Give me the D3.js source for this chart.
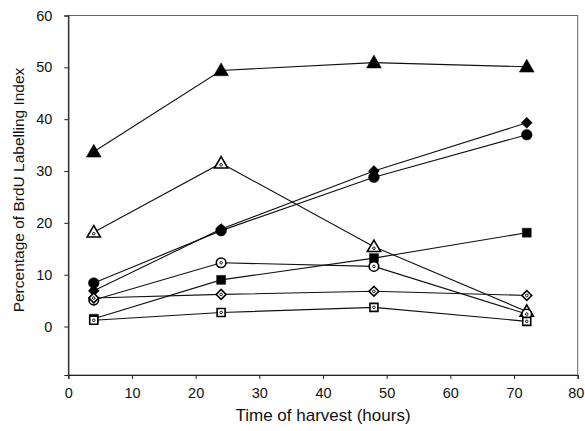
<!DOCTYPE html>
<html><head><meta charset="utf-8">
<script src="https://cdn.jsdelivr.net/npm/d3@7"></script>
<style>body{margin:0;background:#fff;}svg{display:block;}</style>
</head><body>
<script>
const times = [4, 24, 48, 72];
const xTicks = [0, 10, 20, 30, 40, 50, 60, 70, 80];
const yTicks = [0, 10, 20, 30, 40, 50, 60];
const seriesNames = ["triFilled","triOpen","diamondFilled","circleFilled","squareFilled","circleOpen","diamondOpen","squareOpen"];
const triFilled     = [33.7, 49.4, 50.9, 50.1];
const triOpen       = [18.2, 31.5, 15.4, 2.9];
const diamondFilled = [6.9, 18.8, 30.0, 39.3];
const circleFilled  = [8.4, 18.5, 28.8, 37.0];
const squareFilled  = [1.5, 9.0, 13.2, 18.1];
const circleOpen    = [5.1, 12.3, 11.6, 2.4];
const diamondOpen   = [5.5, 6.2, 6.8, 6.0];
const squareOpen    = [1.2, 2.7, 3.7, 1.0];
const seriesValues = [triFilled, triOpen, diamondFilled, circleFilled, squareFilled, circleOpen, diamondOpen, squareOpen];
const seriesShapes = ["triangle","triangle","diamond","circle","square","circle","diamond","square"];
const seriesFilled = [true,false,true,true,true,false,false,false];

const W = 585, H = 431;
const svg = d3.select("body").append("svg").attr("width", W).attr("height", H);
const x = d3.scaleLinear().domain([0, 80]).range([68.3, 577.7]);
const y = d3.scaleLinear().domain([-9.35, 60]).range([375, 15.5]);
const font = "'Liberation Sans', Arial, sans-serif";

// frame
svg.append("rect").attr("x", x(0)).attr("y", y(60)).attr("width", x(80)-x(0)).attr("height", y(-9.35)-y(60))
  .attr("fill","none").attr("stroke","#666").attr("stroke-width",1);

const xAxis = svg.append("g").attr("transform", `translate(0,${y(-9.35)})`)
  .call(d3.axisBottom(x).tickValues(xTicks).tickSize(4).tickPadding(9).tickFormat(d3.format("d")));
const yAxis = svg.append("g").attr("transform", `translate(${x(0)},0)`)
  .call(d3.axisLeft(y).tickValues(yTicks).tickSize(4).tickPadding(12).tickFormat(d3.format("d")));
[xAxis, yAxis].forEach(g => {
  g.select(".domain").attr("stroke","#222").attr("stroke-width",1.2);
  g.selectAll(".tick line").attr("stroke","#222");
  g.selectAll("text").attr("font-family", font).attr("font-size", 14.5).attr("fill","#111");
});
xAxis.selectAll(".tick text").filter(d => d === 80).attr("dx", -2);

svg.append("text").attr("x", (x(0)+x(80))/2).attr("y", 421).attr("text-anchor","middle")
  .attr("font-family", font).attr("font-size", 17).attr("fill","#111").text("Time of harvest (hours)");
svg.append("text").attr("transform", `translate(24,${190}) rotate(-90)`).attr("text-anchor","middle")
  .attr("font-family", font).attr("font-size", 15.5).attr("fill","#111").text("Percentage of BrdU Labelling Index");

const line = d3.line().x((d,i) => x(times[i])).y(d => y(d));
seriesValues.forEach((vals, s) => {
  svg.append("path").datum(vals).attr("d", line).attr("fill","none").attr("stroke","#111").attr("stroke-width",1.1);
});

const symType = {triangle: d3.symbolTriangle, diamond: d3.symbolSquare, circle: d3.symbolCircle, square: d3.symbolSquare};
const symSize = {triangle: 95, diamond: 60, circle: 90, square: 80};
seriesValues.forEach((vals, s) => {
  const shape = seriesShapes[s], filled = seriesFilled[s];
  const g = svg.append("g");
  g.selectAll("path").data(vals).join("path")
    .attr("transform", (d,i) => `translate(${x(times[i])},${y(d) + (shape==="triangle"?1:0)})` + (shape==="diamond" ? " rotate(45)" : ""))
    .attr("d", d3.symbol().type(symType[shape]).size(filled ? symSize[shape] : symSize[shape]*0.8))
    .attr("fill", filled ? "#000" : "#fff").attr("stroke","#000").attr("stroke-width", filled ? 0.5 : 1.6);
  if (!filled) {
    g.selectAll("circle").data(vals).join("circle")
      .attr("cx", (d,i) => x(times[i])).attr("cy", d => y(d) + (shape==="triangle"?1.5:0))
      .attr("r", 1.3).attr("fill","none").attr("stroke","#000").attr("stroke-width",0.9);
  }
});
</script>
</body></html>
